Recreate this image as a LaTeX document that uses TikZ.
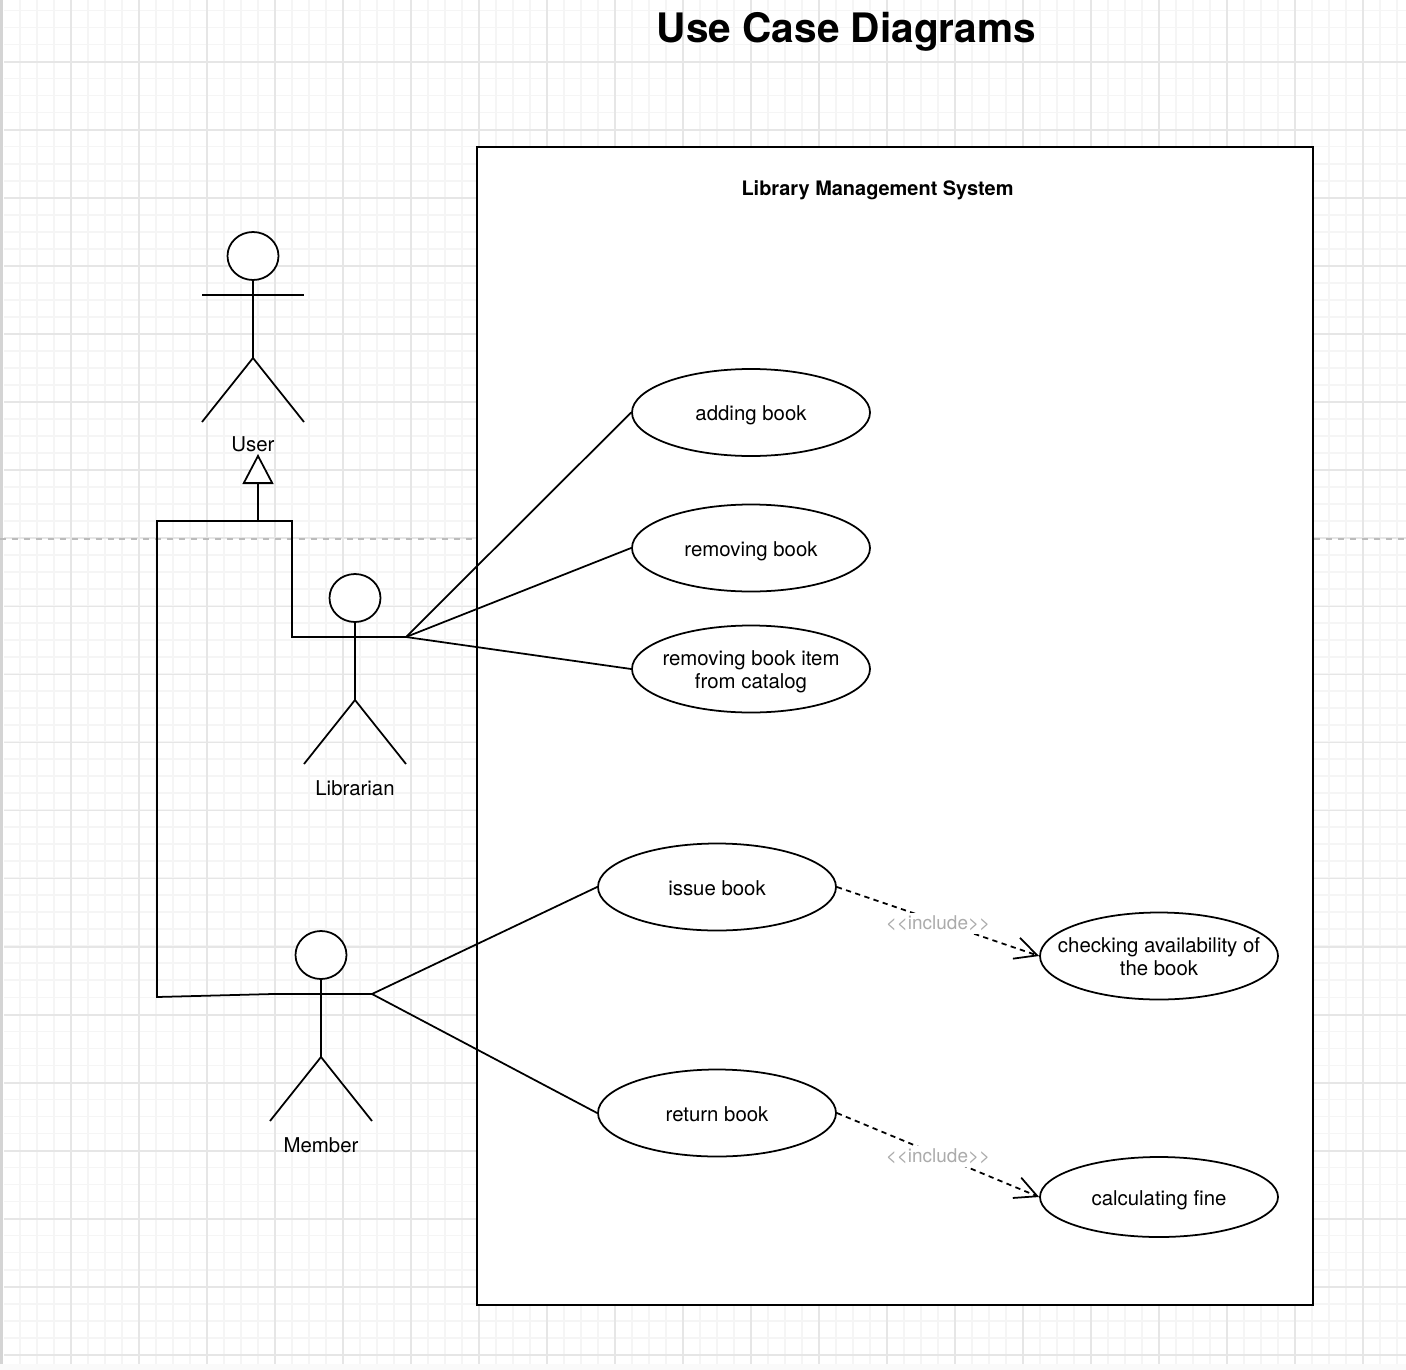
\documentclass[tikz,border=0pt]{standalone}
\usepackage{fontspec}
\setmainfont{TeX Gyre Heros}
\usepackage{xcolor}
\usetikzlibrary{arrows.meta,shapes.geometric}
\definecolor{cGridMinor}{HTML}{F5F5F5}
\definecolor{cGridMajor}{HTML}{E6E6E6}
\definecolor{cEdge}{HTML}{D4D4D4}
\definecolor{cLabel}{HTML}{ABABAB}
\definecolor{cPage}{HTML}{BBBBBB}
\tikzset{
  line/.style ={draw=black, line width=1pt},
  usecase/.style={draw=black, line width=1pt, ellipse, fill=white, align=center,
                  font=\fontsize{11.6}{13.6}\selectfont, minimum width=4.76cm, minimum height=1.74cm,
                  inner sep=-12pt},
  head/.style ={draw=black, line width=1pt, ellipse, fill=white, minimum width=1.02cm,
                minimum height=0.96cm, inner sep=0pt},
  actor/.style={font=\fontsize{11.6}{13.6}\selectfont, inner sep=0pt},
  incl/.style ={line, dash pattern=on 3pt off 2.5pt, -{Straight Barb[length=4.4mm,width=4.4mm]}},
  gentip/.style={-{Triangle[open,length=6mm,width=6.2mm,fill=white]}},
  inclabel/.style={font=\fontsize{10.8}{12}\selectfont, text=cLabel, fill=white, inner xsep=0pt,
                   inner ysep=0pt, minimum height=0.42cm, yshift=-0.03cm},
}
\newcommand{\topline}{\rule{0pt}{11.7pt}}
\newcommand{\lowline}{\rule[-2.6pt]{0pt}{2.6pt}}
\newcommand{\stickman}[3]{% name, x of the body, y of the head centre
  \node[head] (#1) at (#2,#3){};
  \coordinate (#1hip) at (#2,#3-2.04);
  \coordinate (#1l) at (#2-1.02,#3-0.78);
  \coordinate (#1r) at (#2+1.02,#3-0.78);
  \coordinate (#1fl) at (#2-1.02,#3-3.32);
  \coordinate (#1fr) at (#2+1.02,#3-3.32);
  \draw[line] (#1)--(#1hip);
  \draw[line] (#1l)--(#1r);
  \draw[line] (#1fl)--(#1hip)--(#1fr);
}
\begin{document}
\begin{tikzpicture}
  \useasboundingbox (0,0) rectangle (28.12,-27.4);
  % paper and grid
  \fill[white] (0,0) rectangle (28.12,-27.4);
  \fill[cEdge] (0,0) rectangle (0.05,-27.4);
  \fill[cGridMinor!50] (0,-27.28) rectangle (28.12,-27.4);
  \foreach \i in {0,...,81}
    \draw[cGridMinor, line width=1pt] (0.394+\i*0.34,0)--(0.394+\i*0.34,-27.28);
  \foreach \i in {0,...,79}
    \draw[cGridMinor, line width=1pt] (0.08,-0.21-\i*0.3403)--(28.12,-0.21-\i*0.3403);
  \foreach \i in {0,...,20}
    \draw[cGridMajor, line width=1pt] (1.414+\i*1.36,0)--(1.414+\i*1.36,-27.28);
  \foreach \i in {0,...,19}
    \draw[cGridMajor, line width=1pt] (0.08,-1.24-\i*1.361)--(28.12,-1.24-\i*1.361);
  \draw[cPage, dash pattern=on 3.4pt off 3.4pt, line width=1pt] (0,-10.78)--(28.12,-10.78);
  % system box
  \node[draw=black, line width=1pt, fill=white, minimum width=16.71cm, minimum height=23.16cm,
        inner sep=0pt] (sys) at (17.9,-14.52){};
  \node[font=\fontsize{23.1}{26}\selectfont\bfseries] (title) at (16.93,-0.64){Use Case Diagrams};
  \node[font=\fontsize{11.35}{13.6}\selectfont\bfseries] (sysname) at (17.55,-3.8){Library Management System};
  % actors
  \stickman{user}{5.06}{-5.12}
  \stickman{lib}{7.1}{-11.96}
  \stickman{mem}{6.42}{-19.1}
  \node[actor] (userlbl) at (5.06,-8.88){User};
  \node[actor] (liblbl) at (7.1,-15.76){Librarian};
  \node[actor] (memlbl) at (6.42,-22.9){Member};
  % use cases
  \node[usecase] (add) at (15.02,-8.25){\topline adding book\lowline};
  \node[usecase] (rem) at (15.02,-10.96){\topline removing book\lowline};
  \node[usecase] (item) at (15.02,-13.38){\topline removing book item\\from catalog\lowline};
  \node[usecase] (issue) at (14.34,-17.74){\topline issue book\lowline};
  \node[usecase] (ret) at (14.34,-22.26){\topline return book\lowline};
  \node[usecase] (check) at (23.18,-19.12){\topline checking availability of\\the book\lowline};
  \node[usecase, minimum height=1.6cm] (fine) at (23.18,-23.94){\topline calculating fine\lowline};
  % associations
  \draw[line] (libr)--(add.west);
  \draw[line] (libr)--(rem.west);
  \draw[line] (libr)--(item.west);
  \draw[line] (memr)--(issue.west);
  \draw[line] (memr)--(ret.west);
  % generalisation
  \coordinate (joint) at (5.16,-10.42);
  \coordinate (tip) at (5.16,-9.08);
  \coordinate (upr) at (5.84,-10.42);
  \coordinate (upl) at (3.14,-10.42);
  \coordinate (low) at (3.14,-19.94);
  \coordinate (bend) at (5.46,-19.88);
  \draw[line, gentip] (joint)--(tip);
  \draw[line] (libl)-|(upr)--(upl)--(low)--(bend)--(memr);
  % includes
  \draw[incl] (issue.east)--(check.west) node[midway, inclabel] (inca){<{}<include>{}>};
  \draw[incl] (ret.east)--(fine.west) node[midway, inclabel] (incb){<{}<include>{}>};
\end{tikzpicture}
\end{document}
